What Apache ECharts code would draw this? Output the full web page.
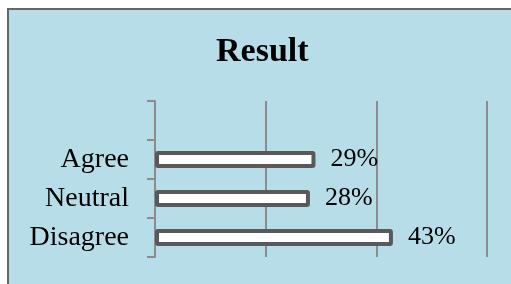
<!DOCTYPE html>
<html>
<head>
<meta charset="utf-8">
<script src="https://cdn.jsdelivr.net/npm/echarts@6/dist/echarts.min.js"></script>
<style>
  html, body { margin: 0; padding: 0; background: #fff; }
</style>
</head>
<body>
<div id="chart" style="width:511px;height:284px;"></div>
<script>
// categories bottom to top, the top slot is empty in the original
var categories = ['Disagree', 'Neutral', 'Agree', ''];
var values = [43, 28, 29, null];
var xTicks = [0, 20, 40, 60];

var chart = echarts.init(document.getElementById('chart'));
var option = {
    backgroundColor: '#ffffff',
    animation: false,
    graphic: [{
        type: 'rect',
        z: -10,
        silent: true,
        shape: { x: 8, y: 9, width: 520, height: 300 },
        style: { fill: '#b7dee8', stroke: '#666666', lineWidth: 2 }
    }],
    title: {
        text: 'Result',
        left: 211,
        top: 30,
        textStyle: {
            fontFamily: 'Liberation Serif',
            fontWeight: 'bold',
            fontSize: 34,
            color: '#000'
        }
    },
    grid: { left: 155, right: 24, top: 101, bottom: 27 },
    xAxis: {
        type: 'value',
        min: xTicks[0],
        max: xTicks[xTicks.length - 1],
        interval: 20,
        axisLine: { show: false },
        axisTick: { show: false },
        axisLabel: { show: false },
        splitLine: { show: true, lineStyle: { color: '#8c8c8c', width: 2 } }
    },
    yAxis: {
        type: 'category',
        data: categories,
        axisLine: { show: true, lineStyle: { color: '#8c8c8c', width: 2 } },
        axisTick: { show: true, length: 8, lineStyle: { color: '#8c8c8c', width: 2 } },
        axisLabel: {
            margin: 26,
            fontFamily: 'Liberation Serif',
            fontSize: 28,
            color: '#000'
        }
    },
    series: [{
        type: 'bar',
        data: values,
        barWidth: 17,
        itemStyle: {
            color: '#ffffff',
            borderColor: '#595959',
            borderWidth: 4,
            borderRadius: 1
        },
        label: {
            show: true,
            position: 'right',
            distance: 15,
            formatter: '{c}%',
            fontFamily: 'Liberation Serif',
            fontSize: 26,
            color: '#000'
        }
    }]
};
chart.setOption(option);
</script>
</body>
</html>
